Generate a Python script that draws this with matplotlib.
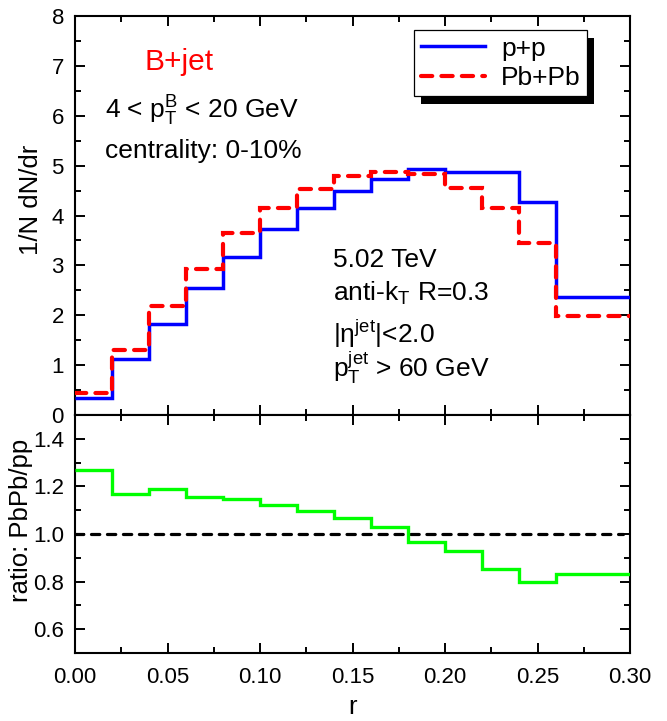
import numpy as np
import matplotlib
matplotlib.use("Agg")
import matplotlib.pyplot as plt
from matplotlib.ticker import MultipleLocator, FormatStrFormatter
from matplotlib.patches import Rectangle
from matplotlib.lines import Line2D

# bin edges in r, last bin is wider
r_edges = [0.00, 0.02, 0.04, 0.06, 0.08, 0.10, 0.12, 0.14, 0.16, 0.18, 0.20, 0.22, 0.24, 0.26, 0.30]

# 1/N dN/dr
pp_vals = [0.35, 1.13, 1.83, 2.54, 3.17, 3.72, 4.15, 4.50, 4.73, 4.93, 4.88, 4.87, 4.28, 2.36]
pbpb_vals = [0.45, 1.31, 2.18, 2.92, 3.64, 4.16, 4.53, 4.80, 4.87, 4.83, 4.55, 4.16, 3.44, 1.98]

# PbPb / pp
ratio_vals = [1.268, 1.167, 1.191, 1.155, 1.148, 1.122, 1.096, 1.066, 1.028, 0.966, 0.928, 0.853, 0.799, 0.833]

legend_labels = ["p+p", "Pb+Pb"]

plt.rcParams['font.family'] = ['Liberation Sans', 'DejaVu Sans']
plt.rcParams['mathtext.fontset'] = 'custom'
plt.rcParams['mathtext.rm'] = 'Liberation Sans'
plt.rcParams['mathtext.it'] = 'Liberation Sans'
plt.rcParams['mathtext.default'] = 'regular'

W, H = 667, 721
fig = plt.figure(figsize=(W / 100, H / 100), dpi=100)

x0, x1 = 75, 630
ax = fig.add_axes([x0 / W, 1 - 415 / H, (x1 - x0) / W, (415 - 16) / H])
axr = fig.add_axes([x0 / W, 1 - 653 / H, (x1 - x0) / W, (653 - 415) / H], sharex=ax)

pp_style = dict(color='#0000ff', lw=2.5)
pb_style = dict(color='#ff0000', lw=3.0, linestyle=(0, (2.7, 2.2)))

# top panel
ax.stairs(pp_vals, r_edges, baseline=None, zorder=3, **pp_style)
st = ax.stairs(pbpb_vals, r_edges, baseline=None, zorder=4, **pb_style)
st.set_capstyle('round')

ax.set_xlim(0, 0.30)
ax.set_ylim(0, 8)
ax.yaxis.set_major_locator(MultipleLocator(1))
ax.yaxis.set_minor_locator(MultipleLocator(0.5))
ax.xaxis.set_major_locator(MultipleLocator(0.05))
ax.xaxis.set_minor_locator(MultipleLocator(0.025))
ax.tick_params(axis='x', labelbottom=False)
ax.set_ylabel("1/N dN/dr", fontsize=18.5)
ax.yaxis.set_label_coords(-0.058, 0.539)

txt = dict(transform=ax.transAxes, fontsize=19, va='baseline', ha='left')
ax.text(0.126, 0.865, "B+jet", color='#ff0000', fontsize=21.5, transform=ax.transAxes, va='baseline')
ax.text(0.054, 0.744, r"4 < $p_{T}^{B}$ < 20 GeV", **txt)
ax.text(0.054, 0.644, "centrality: 0-10%", **txt)
ax.text(0.465, 0.371, "5.02 TeV", **txt)
ax.text(0.465, 0.286, r"anti-$k_{T}$ R=0.3", **txt)
ax.text(0.465, 0.180, r"|η$^{jet}$|<2.0", **txt)
ax.text(0.465, 0.095, r"$p_{T}^{jet}$ > 60 GeV", **txt)

h_pp = Line2D([], [], **pp_style)
h_pb = Line2D([], [], dash_capstyle='round', **pb_style)
leg = ax.legend([h_pp, h_pb], legend_labels, loc='upper left', bbox_to_anchor=(0.611, 0.965),
                borderaxespad=0, fontsize=19, frameon=True, fancybox=False, framealpha=1,
                edgecolor='black', handlelength=2.45, handletextpad=0.6,
                borderpad=0.25, labelspacing=0.2)
leg.get_frame().set_linewidth(0.9)
leg.set_zorder(6)

# ratio panel
axr.stairs(ratio_vals, r_edges, baseline=None, color='#00ff00', lw=2.4, zorder=3)
hl = axr.hlines(1.0, 0.0, 0.296, colors='black', lw=2.3, linestyles=(0, (2.6, 2.4)), zorder=2)
hl.set_capstyle('round')
axr.set_ylim(0.5, 1.5)
axr.yaxis.set_major_locator(MultipleLocator(0.2))
axr.yaxis.set_minor_locator(MultipleLocator(0.1))
axr.yaxis.set_major_formatter(FormatStrFormatter('%.1f'))
axr.xaxis.set_major_formatter(FormatStrFormatter('%.2f'))
axr.set_xlabel("r", fontsize=18.5, labelpad=5)
axr.set_ylabel("ratio: PbPb/pp", fontsize=18.5)
axr.yaxis.set_label_coords(-0.076, 0.559)

for a in (ax, axr):
    for s in a.spines.values():
        s.set_linewidth(1.5)
    a.tick_params(which='both', direction='in', top=True, right=True, width=1.4, labelsize=16, pad=8)
    a.tick_params(which='major', length=7.5)
    a.tick_params(which='minor', length=4)
axr.tick_params(axis='x', pad=10)

# black drop shadow behind the legend box
fig.canvas.draw()
bb = leg.get_frame().get_window_extent()
sx, sy = 7, -8
(ax0, ay0), (ax1, ay1) = ax.transAxes.inverted().transform([[bb.x0 + sx, bb.y0 + sy], [bb.x1 + sx, bb.y1 + sy]])
ax.add_patch(Rectangle((ax0, ay0), ax1 - ax0, ay1 - ay0, transform=ax.transAxes,
                       facecolor='black', edgecolor='none', zorder=5.5, clip_on=False))

fig.savefig("out.png", dpi=100)
